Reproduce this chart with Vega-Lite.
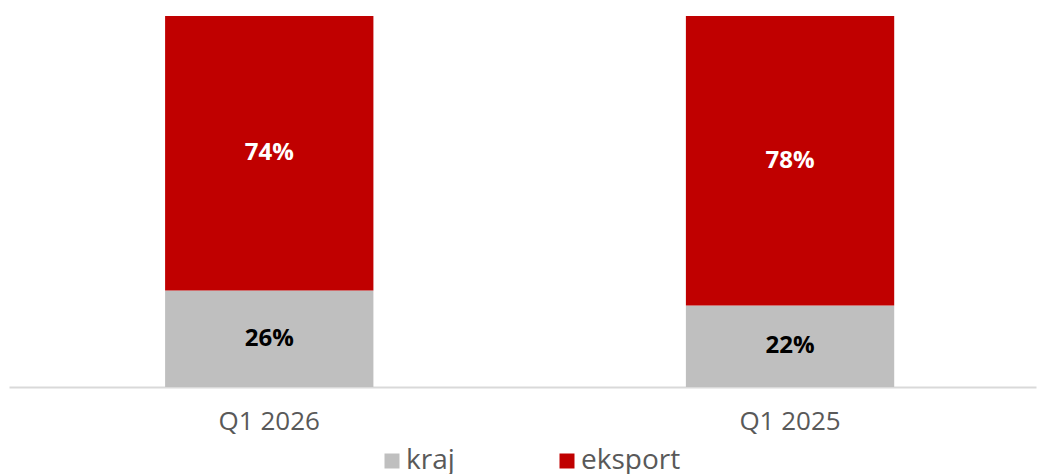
{
  "$schema": "https://vega.github.io/schema/vega-lite/v6.json",
  "autosize": "none",
  "width": 1027,
  "height": 371,
  "padding": {"left": 9, "top": 16, "right": 2, "bottom": 87},
  "background": "white",
  "config": {"view": {"stroke": null}, "font": "Open Sans"},
  "data": {"values": [
    {"quarter": "Q1 2026", "series": "kraj", "value": 26},
    {"quarter": "Q1 2026", "series": "eksport", "value": 74},
    {"quarter": "Q1 2025", "series": "kraj", "value": 22},
    {"quarter": "Q1 2025", "series": "eksport", "value": 78}
  ]},
  "transform": [
    {"stack": "value", "groupby": ["quarter"], "as": ["v0", "v1"], "sort": [{"field": "series", "order": "descending"}]},
    {"calculate": "(datum.v0 + datum.v1) / 2", "as": "mid"},
    {"calculate": "datum.value + '%'", "as": "label"}
  ],
  "encoding": {
    "x": {"field": "quarter", "type": "nominal", "sort": ["Q1 2026", "Q1 2025"],
      "scale": {"paddingInner": 0.6, "paddingOuter": 0.286, "align": 0.524},
      "axis": {"title": null, "ticks": false, "domainColor": "#d9d9d9", "domainWidth": 2, "labelAngle": 0,
        "labelFontSize": 26, "labelColor": "#595959", "labelPadding": 21, "labelFont": "Open Sans"}}
  },
  "layer": [
    {
      "mark": {"type": "bar"},
      "encoding": {
        "y": {"field": "v0", "type": "quantitative", "scale": {"domain": [0, 100]}, "axis": null},
        "y2": {"field": "v1"},
        "color": {"field": "series", "type": "nominal",
          "scale": {"domain": ["kraj", "eksport"], "range": ["#bfbfbf", "#c00000"]},
          "legend": {"title": null, "orient": "none", "direction": "horizontal", "legendX": 369, "legendY": 431,
            "symbolType": "square", "symbolSize": 225, "symbolStrokeWidth": 0, "labelFontSize": 28,
            "labelColor": "#595959", "labelOffset": 0, "columnPadding": 98, "padding": 0, "labelFont": "Open Sans"}}
      }
    },
    {
      "mark": {"type": "text", "fontSize": 24, "fontWeight": "bold", "font": "Open Sans"},
      "encoding": {
        "y": {"field": "mid", "type": "quantitative"},
        "text": {"field": "label", "type": "nominal"},
        "color": {"condition": {"test": "datum.series == 'eksport'", "value": "white"}, "value": "black"}
      }
    }
  ]
}
